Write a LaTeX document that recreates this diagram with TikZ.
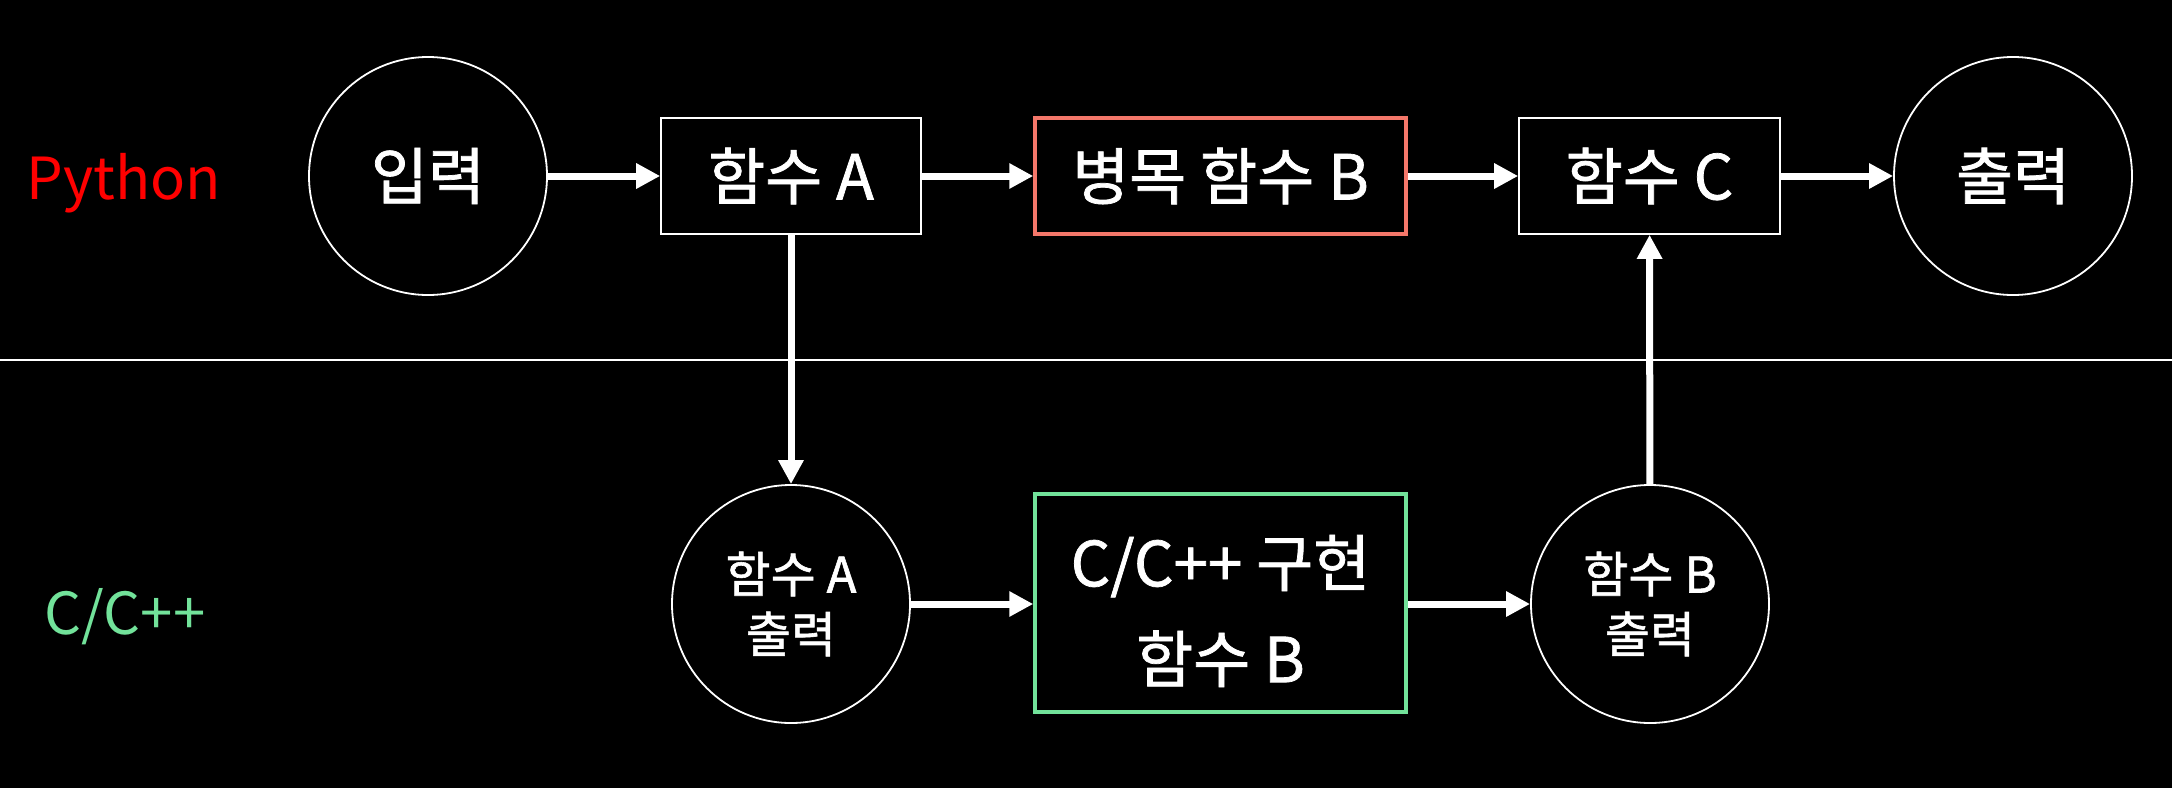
\documentclass[tikz,border=0pt]{standalone}
\usepackage{fontspec}
\setmainfont{Noto Sans CJK KR}[FakeBold=1.2]
\newfontfamily\lblfont{Noto Sans CJK KR}
\usetikzlibrary{arrows.meta}
\definecolor{bneck}{HTML}{F4776A}
\definecolor{cgreen}{HTML}{72E29A}
\definecolor{pyred}{HTML}{FF0000}
\begin{document}
\begin{tikzpicture}[x=1pt,y=-1pt,
  bigtxt/.style={font=\fontsize{62}{96}\selectfont, text=white},
  smalltxt/.style={font=\fontsize{49}{60}\selectfont, text=white},
  circ/.style={circle, draw=white, line width=1.8pt, minimum size=238pt, inner sep=0pt, align=center},
  fbox/.style={rectangle, draw=white, line width=1.6pt, minimum height=116pt, inner sep=0pt},
  conn/.style={draw=white, line width=7pt, -{Triangle[length=24pt,width=24pt]}},
]
\fill[black] (0,0) rectangle (2172,788);
\useasboundingbox (0,0) rectangle (2172,788);
\draw[white, line width=2pt] (0,360) -- (2172,360);

\node[text=pyred, font=\lblfont\fontsize{58}{70}\selectfont] (py) at (124,183) {Python};
\node[text=cgreen, font=\lblfont\fontsize{58}{70}\selectfont] (cc) at (125,617) {C/C++};

\node[circ, bigtxt] (in) at (428,176) {입력};
\node[fbox, bigtxt, minimum width=260pt] (fA) at (791,176) {함수 A};
\node[fbox, bigtxt, minimum width=371pt, draw=bneck, line width=3.5pt] (fB) at (1220.5,176) {병목 함수 B};
\node[fbox, bigtxt, minimum width=261pt] (fC) at (1649.5,176) {함수 C};
\node[circ, bigtxt] (out) at (2013,176) {출력};

\node[circ, smalltxt] (aout) at (791,604) {함수 A\\출력};
\node[rectangle, draw=cgreen, line width=3.5pt, minimum width=371pt, minimum height=218pt, inner sep=0pt] (cimpl) at (1220.5,603) {};
\node[align=center, bigtxt, inner sep=0pt] (cimpltxt) at (1220.5,611) {C/C++ 구현\\함수 B};
\node[circ, smalltxt] (bout) at (1650,604) {함수 B\\출력};

\draw[conn] (in) -- (fA);
\draw[conn] (fA) -- (fB);
\draw[conn] (fB) -- (fC);
\draw[conn] (fC) -- (out);
\draw[conn] (fA) -- (aout);
\draw[conn] (aout) -- (cimpl.west |- aout);
\draw[conn] (cimpl.east |- bout) -- (bout);
\draw[conn] (bout) -- (fC);
\end{tikzpicture}
\end{document}
